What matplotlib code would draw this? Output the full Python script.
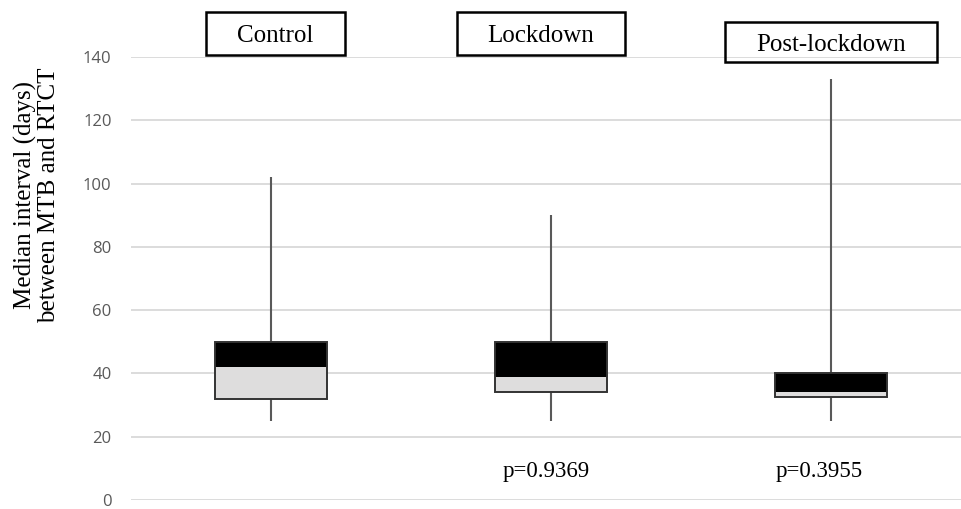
import matplotlib
matplotlib.use("Agg")
import matplotlib.pyplot as plt
from matplotlib.patches import Rectangle

groups = ["Control", "Lockdown", "Post-lockdown"]
whisker_min = [25, 25, 25]
q1 = [32, 34, 32.4]
median = [42, 39, 34.2]
q3 = [50, 50, 40]
whisker_max = [102, 90, 133]
p_values = ["", "p=0.9369", "p=0.3955"]
yticks = [0, 20, 40, 60, 80, 100, 120, 140]

W, H = 961, 509
fig = plt.figure(figsize=(W / 100, H / 100), dpi=100)
ax = fig.add_axes([131 / W, (H - 500) / H, (961 - 131) / W, 443 / H])
ax.set_ylim(0, 140)
ax.set_xlim(-0.5, 2.5 - 10 / 280)

pos = list(range(len(groups)))
bw = 0.4
lower_h = [m - a for m, a in zip(median, q1)]
upper_h = [b - m for b, m in zip(q3, median)]
ax.bar(pos, lower_h, bottom=q1, width=bw, color="#dedddd", zorder=3, linewidth=0)
ax.bar(pos, upper_h, bottom=median, width=bw, color="#000000", zorder=3, linewidth=0)
ax.bar(pos, [b - a for b, a in zip(q3, q1)], bottom=q1, width=bw, fill=False,
       edgecolor="#333333", linewidth=1.4, zorder=4)
ax.vlines(pos, whisker_min, q1, color="#595959", linewidth=1.5, zorder=2)
ax.vlines(pos, q3, whisker_max, color="#595959", linewidth=1.5, zorder=2)

ax.set_yticks(yticks)
ax.set_xticks([])
ax.yaxis.grid(True, color="#d9d9d9", linewidth=1.3)
ax.set_axisbelow(True)
for s in ax.spines.values():
    s.set_visible(False)
ax.tick_params(axis="y", length=0, pad=14, labelsize=12, labelcolor="#595959")
for lab in ax.get_yticklabels():
    lab.set_family("Open Sans")

serif = "Liberation Serif"
fig.text(37 / W, 1 - 195 / H, "Median interval (days)\nbetween MTB and RTCT",
         rotation=90, ha="center", va="center", family=serif, fontsize=18,
         linespacing=1.08, multialignment="center")

p_offsets = [0, -0.018, -0.043]
for x, p, dx in zip(pos, p_values, p_offsets):
    if p:
        ax.text(x + dx, 7.3, p, ha="center", va="baseline", family=serif,
                fontsize=16.5)

# group label boxes (pixel layout)
boxes = [(206, 12, 345, 55), (457, 12, 625, 55), (725, 22, 937, 62)]
baselines = [42, 42, 51]
for (x0, y0, x1, y1), g, b in zip(boxes, groups, baselines):
    fig.add_artist(Rectangle((x0 / W, 1 - y1 / H), (x1 - x0) / W, (y1 - y0) / H,
                             transform=fig.transFigure, fill=False,
                             edgecolor="black", linewidth=1.8))
    fig.text((x0 + x1) / 2 / W, 1 - b / H, g, ha="center", va="baseline",
             family=serif, fontsize=18)

fig.savefig("out.png", dpi=100)
